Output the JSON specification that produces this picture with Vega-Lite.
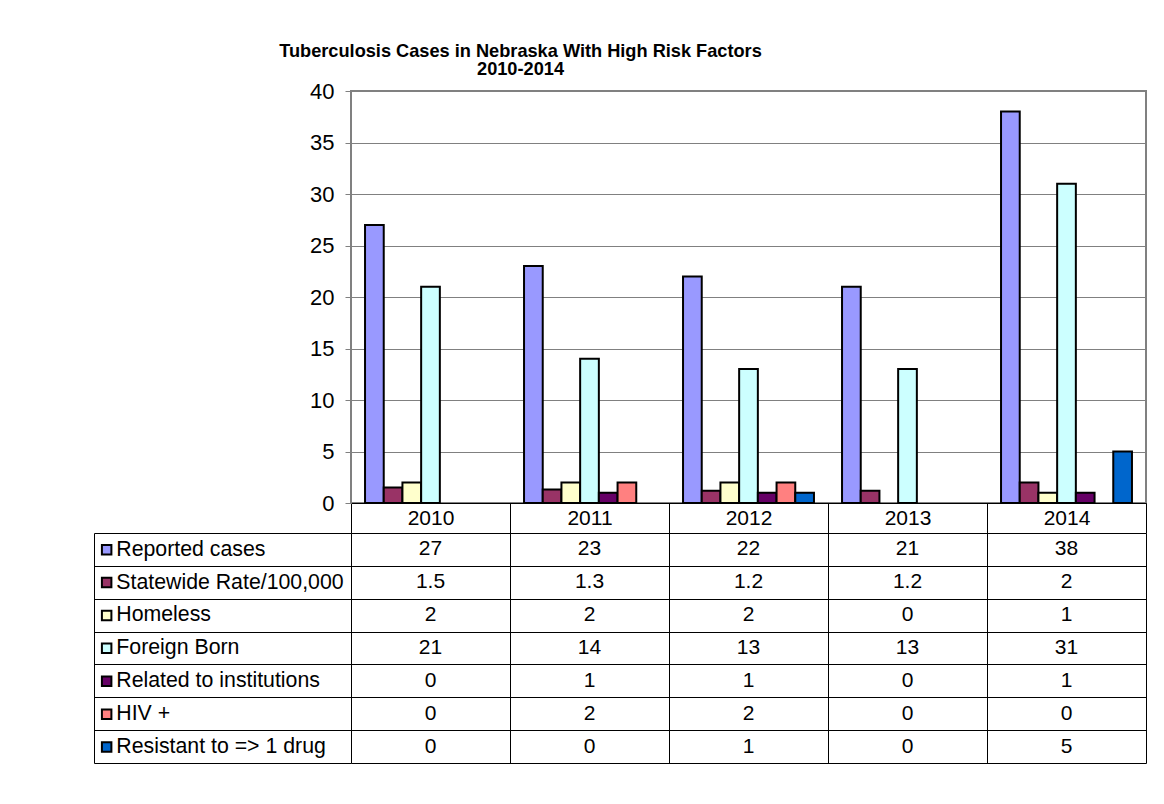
{
  "$schema": "https://vega.github.io/schema/vega-lite/v6.json",
  "padding": {"left": 93, "top": 41, "right": 5, "bottom": 5},
  "background": "white",
  "config": {
    "font": "Liberation Sans",
    "view": {"stroke": null},
    "axis": {"labelFont": "Liberation Sans", "labelColor": "black", "titleFont": "Liberation Sans"},
    "legend": {"labelFont": "Liberation Sans"}
  },
  "title": {
    "text": ["Tuberculosis Cases in Nebraska With High Risk Factors", "2010-2014"],
    "fontSize": 18.2,
    "fontWeight": "bold",
    "font": "Liberation Sans",
    "color": "black",
    "anchor": "middle",
    "dx": -100,
    "lineHeight": 18.5,
    "offset": -0.5
  },
  "data": {
    "values": [
      {"year": "2010", "series": "Reported cases", "value": 27},
      {"year": "2011", "series": "Reported cases", "value": 23},
      {"year": "2012", "series": "Reported cases", "value": 22},
      {"year": "2013", "series": "Reported cases", "value": 21},
      {"year": "2014", "series": "Reported cases", "value": 38},
      {"year": "2010", "series": "Statewide Rate/100,000", "value": 1.5},
      {"year": "2011", "series": "Statewide Rate/100,000", "value": 1.3},
      {"year": "2012", "series": "Statewide Rate/100,000", "value": 1.2},
      {"year": "2013", "series": "Statewide Rate/100,000", "value": 1.2},
      {"year": "2014", "series": "Statewide Rate/100,000", "value": 2},
      {"year": "2010", "series": "Homeless", "value": 2},
      {"year": "2011", "series": "Homeless", "value": 2},
      {"year": "2012", "series": "Homeless", "value": 2},
      {"year": "2013", "series": "Homeless", "value": 0},
      {"year": "2014", "series": "Homeless", "value": 1},
      {"year": "2010", "series": "Foreign Born", "value": 21},
      {"year": "2011", "series": "Foreign Born", "value": 14},
      {"year": "2012", "series": "Foreign Born", "value": 13},
      {"year": "2013", "series": "Foreign Born", "value": 13},
      {"year": "2014", "series": "Foreign Born", "value": 31},
      {"year": "2010", "series": "Related to institutions", "value": 0},
      {"year": "2011", "series": "Related to institutions", "value": 1},
      {"year": "2012", "series": "Related to institutions", "value": 1},
      {"year": "2013", "series": "Related to institutions", "value": 0},
      {"year": "2014", "series": "Related to institutions", "value": 1},
      {"year": "2010", "series": "HIV +", "value": 0},
      {"year": "2011", "series": "HIV +", "value": 2},
      {"year": "2012", "series": "HIV +", "value": 2},
      {"year": "2013", "series": "HIV +", "value": 0},
      {"year": "2014", "series": "HIV +", "value": 0},
      {"year": "2010", "series": "Resistant to => 1 drug", "value": 0},
      {"year": "2011", "series": "Resistant to => 1 drug", "value": 0},
      {"year": "2012", "series": "Resistant to => 1 drug", "value": 1},
      {"year": "2013", "series": "Resistant to => 1 drug", "value": 0},
      {"year": "2014", "series": "Resistant to => 1 drug", "value": 5}
    ]
  },
  "bounds": "flush",
  "spacing": 30,
  "vconcat": [
    {
      "width": 795,
      "height": 412,
      "view": {"stroke": "#808080", "strokeWidth": 2},
      "transform": [{"filter": "datum.value > 0"}],
      "mark": {"type": "bar", "stroke": "black", "strokeWidth": 2},
      "encoding": {
        "x": {
          "field": "year",
          "type": "nominal",
          "scale": {"paddingInner": 0, "paddingOuter": 0},
          "axis": {
            "title": null,
            "labelAngle": 0,
            "labelFontSize": 21,
            "labelBaseline": "middle",
            "labelPadding": -15,
            "tickBand": "extent",
            "tickSize": 30,
            "tickColor": "black",
            "domainColor": "black",
            "grid": false
          }
        },
        "xOffset": {
          "field": "series",
          "type": "nominal",
          "sort": ["Reported cases", "Statewide Rate/100,000", "Homeless", "Foreign Born", "Related to institutions", "HIV +", "Resistant to => 1 drug"],
          "scale": {"paddingInner": 0, "paddingOuter": 0.75}
        },
        "y": {
          "field": "value",
          "type": "quantitative",
          "scale": {"domain": [0, 40], "nice": false},
          "axis": {
            "title": null,
            "values": [0, 5, 10, 15, 20, 25, 30, 35, 40],
            "labelFontSize": 22,
            "labelPadding": 11,
            "tickSize": 6,
            "tickColor": "#808080",
            "domainColor": "#808080",
            "grid": true,
            "gridColor": "#808080"
          }
        },
        "color": {
          "field": "series",
          "type": "nominal",
          "scale": {
            "domain": ["Reported cases", "Statewide Rate/100,000", "Homeless", "Foreign Born", "Related to institutions", "HIV +", "Resistant to => 1 drug"],
            "range": ["#9999FF", "#993366", "#FFFFCC", "#CCFFFF", "#660066", "#FF8080", "#0066CC"]
          },
          "legend": {
            "title": null,
            "orient": "none",
            "legendX": -255,
            "legendY": 448,
            "padding": 0,
            "symbolType": "square",
            "symbolSize": 90,
            "symbolStrokeColor": "black",
            "symbolStrokeWidth": 2,
            "symbolOpacity": 1,
            "labelFontSize": 21.3,
            "labelColor": "black",
            "labelLimit": 400,
            "labelOffset": -1,
            "rowPadding": 10.9
          }
        }
      }
    },
    {
      "width": 795,
      "height": 230,
      "mark": {"type": "text", "fontSize": 21, "color": "black", "baseline": "middle", "align": "center"},
      "encoding": {
        "x": {
          "field": "year",
          "type": "nominal",
          "scale": {"paddingInner": 0, "paddingOuter": 0},
          "axis": {
            "orient": "top",
            "title": null,
            "labels": false,
            "ticks": false,
            "domain": false,
            "grid": true,
            "tickBand": "extent",
            "gridColor": "black",
            "gridOpacity": 1
          }
        },
        "y": {
          "field": "series",
          "type": "nominal",
          "sort": ["Reported cases", "Statewide Rate/100,000", "Homeless", "Foreign Born", "Related to institutions", "HIV +", "Resistant to => 1 drug"],
          "scale": {"paddingInner": 0, "paddingOuter": 0},
          "axis": {
            "title": null,
            "labels": false,
            "offset": 257,
            "ticks": true,
            "tickSize": -257,
            "tickBand": "extent",
            "tickColor": "black",
            "domain": true,
            "domainColor": "black",
            "grid": true,
            "gridColor": "black",
            "gridOpacity": 1
          }
        },
        "text": {"field": "value", "type": "quantitative", "format": "~g"}
      }
    }
  ]
}
